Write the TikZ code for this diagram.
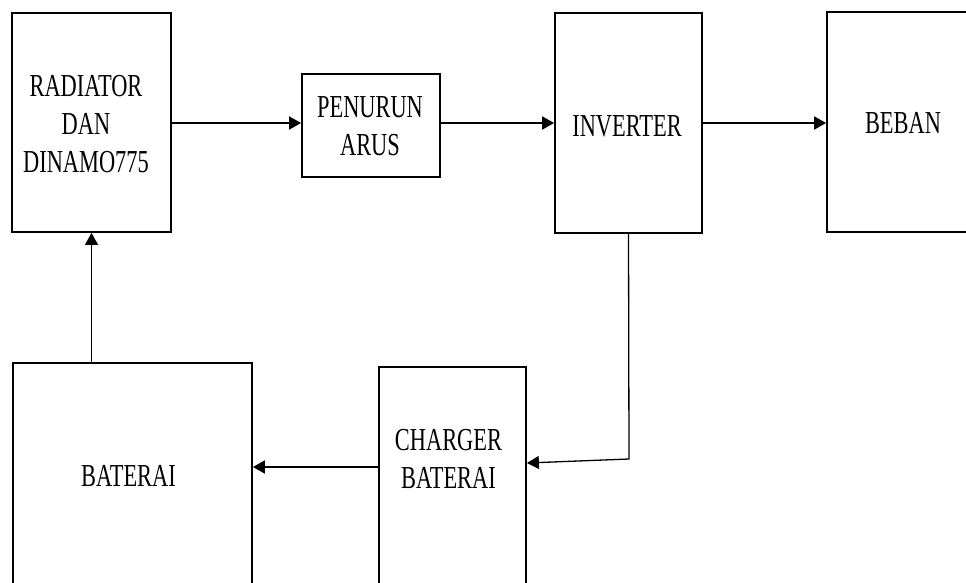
\documentclass[tikz,border=0pt]{standalone}
\usepackage{fontspec}
\setmainfont{Liberation Serif}[FakeStretch=0.70]
\usepackage{tikz}
\usetikzlibrary{arrows.meta}

\tikzset{
  blok/.style={draw, line width=1.8pt, inner sep=0pt},
  teks/.style={align=center, font=\fontsize{32}{38}\selectfont, inner sep=0pt},
  panah/.style={line width=1.8pt, -{Triangle[length=12pt,width=13pt]}}
}

\begin{document}
\begin{tikzpicture}[x=1pt,y=-1pt]
  \useasboundingbox (0,0) rectangle (966,583);
  \clip (0,0) rectangle (966,583);
  \foreach \nm/\cx/\cy/\w/\h in {rad/91.5/122.5/159/219,pen/371/125.5/138/103,inv/628.5/123/147/220,beb/903/122/152/220,bat/132.5/476.5/239/227,chg/452.5/483.5/147/233} {
    \node[blok, minimum width=\w pt, minimum height=\h pt] (\nm) at (\cx,\cy) {};
  }
  \foreach \nm/\tx/\ty/\isi in {rad/86/124.5/{RADIATOR\\DAN\\DINAMO775},pen/370/126/{PENURUN\\ARUS},inv/627/126/INVERTER,beb/903/123/BEBAN,bat/128.5/475.5/BATERAI,chg/448.5/458.5/{CHARGER\\BATERAI}} {
    \node[teks] (\nm-t) at (\tx,\ty) {\isi};
  }
  \coordinate (knik) at (629,459);
  \draw[panah] (rad.east |- 0,123) -- (pen.west |- 0,123);
  \draw[panah] (pen.east |- 0,123) -- (inv.west |- 0,123);
  \draw[panah] (inv.east) -- (inv.east -| beb.west);
  \draw[panah, line width=1.3pt] (inv.south) -- (knik) -- (chg.east |- 0,463);
  \draw[panah] (chg.west |- 0,467) -- (bat.east |- 0,467);
  \draw[panah, line width=1.3pt] (bat.north -| rad.south) -- (rad.south);
\end{tikzpicture}
\end{document}
